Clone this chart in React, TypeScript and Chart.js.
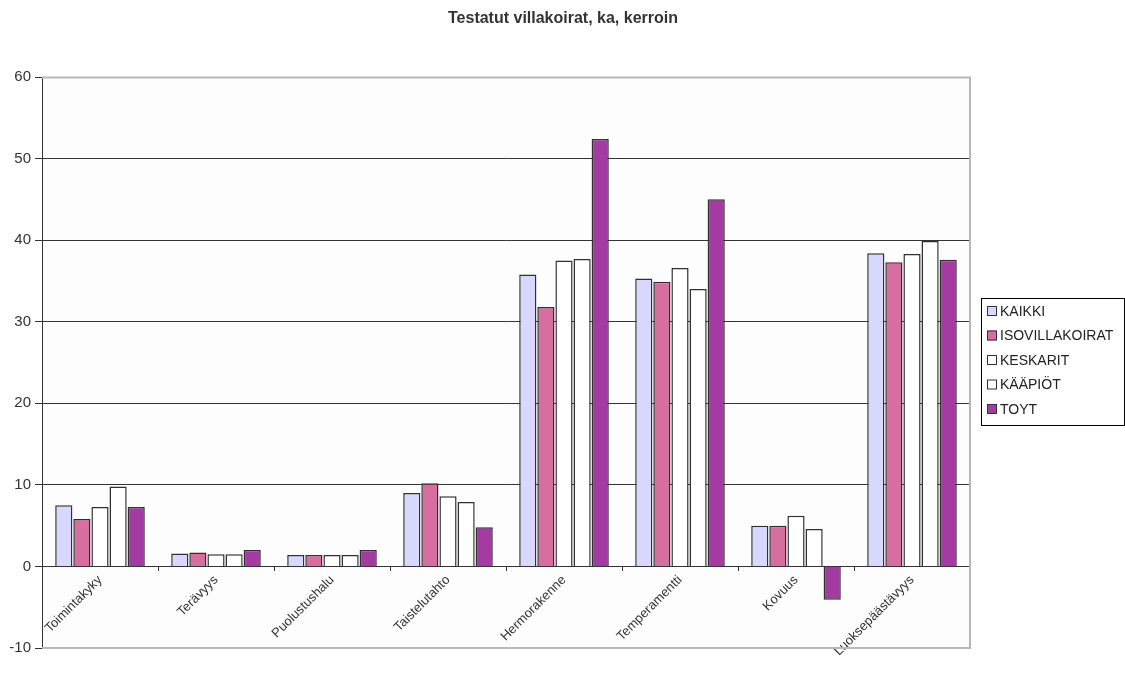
import React, { useEffect, useRef } from "react";
import { Chart, registerables } from "chart.js";
Chart.register(...registerables);

const title = "Testatut villakoirat, ka, kerroin";
const categories = ["Toimintakyky", "Terävyys", "Puolustushalu", "Taistelutahto", "Hermorakenne", "Temperamentti", "Kovuus", "Luoksepäästävyys"];
const seriesNames = ["KAIKKI", "ISOVILLAKOIRAT", "KESKARIT", "KÄÄPIÖT", "TOYT"];
const kaikki = [7.5, 1.6, 1.4, 9.0, 35.8, 35.3, 5.0, 38.4];
const isovillakoirat = [5.8, 1.7, 1.4, 10.2, 31.8, 34.9, 5.0, 37.3];
const keskarit = [7.3, 1.5, 1.4, 8.6, 37.5, 36.6, 6.2, 38.3];
const kaapiot = [9.8, 1.5, 1.4, 7.9, 37.7, 34.0, 4.6, 39.9];
const toyt = [7.3, 2.0, 2.0, 4.8, 52.4, 45.0, -4.1, 37.6];
const seriesColors = ["#d8d8ff", "#d66fa0", "#ffffff", "#ffffff", "#a33ba1"];
const yMin = -10;
const yMax = 60;
const yStep = 10;

const FONT = "'Liberation Sans', Arial, sans-serif";

export default function App() {
  const ref = useRef<HTMLCanvasElement | null>(null);
  useEffect(() => {
    const canvas = ref.current;
    if (!canvas) return;
    const values = [kaikki, isovillakoirat, keskarit, kaapiot, toyt];
    const bgPlugin = {
      id: "bg",
      beforeDraw(chart: any) {
        const { ctx, chartArea: a } = chart;
        ctx.save();
        ctx.fillStyle = "#ffffff";
        ctx.fillRect(0, 0, chart.width, chart.height);
        ctx.fillStyle = "#fdfdfd";
        ctx.fillRect(a.left, a.top, a.right - a.left, a.bottom - a.top);
        ctx.restore();
      },
      afterDraw(chart: any) {
        const { ctx, chartArea: a } = chart;
        ctx.save();
        ctx.strokeStyle = "#b8b8b8";
        ctx.lineWidth = 2;
        ctx.beginPath();
        ctx.moveTo(a.left, a.top + 0.5);
        ctx.lineTo(a.right, a.top + 0.5);
        ctx.lineTo(a.right, a.bottom);
        ctx.lineTo(a.left, a.bottom);
        ctx.stroke();
        ctx.fillStyle = "#333333";
        ctx.font = `bold 16px ${FONT}`;
        ctx.textAlign = "center";
        ctx.textBaseline = "middle";
        ctx.fillText(title, 563, 19);
        const lx = 981, ly = 298, lw = 143, lh = 127;
        ctx.fillStyle = "#ffffff";
        ctx.fillRect(lx, ly, lw, lh);
        ctx.strokeStyle = "#000000";
        ctx.lineWidth = 1;
        ctx.strokeRect(lx + 0.5, ly + 0.5, lw, lh);
        ctx.font = `14px ${FONT}`;
        ctx.textAlign = "left";
        seriesNames.forEach((name, i) => {
          const cy = ly + 13 + i * 24.5;
          ctx.fillStyle = seriesColors[i];
          ctx.fillRect(lx + 6, cy - 5, 10, 10);
          ctx.strokeStyle = "#333333";
          ctx.strokeRect(lx + 6.5, cy - 4.5, 9, 9);
          ctx.fillStyle = "#222222";
          ctx.fillText(name, lx + 19, cy + 1);
        });
        ctx.restore();
      },
    };
    const chart = new Chart(canvas, {
      type: "bar",
      data: {
        labels: categories,
        datasets: seriesNames.map((name, i) => ({
          label: name,
          data: values[i],
          backgroundColor: seriesColors[i],
          borderColor: "#303030",
          borderWidth: 1.5,
          barPercentage: 0.95,
          categoryPercentage: 0.78,
        })),
      },
      options: {
        responsive: false,
        animation: false,
        layout: { padding: { top: 77, right: 155, bottom: 33, left: 0 } },
        plugins: {
          legend: { display: false },
          title: { display: false },
          tooltip: { enabled: false },
        },
        scales: {
          x: {
            position: { y: 0 } as any,
            grid: {
              drawOnChartArea: false,
              drawTicks: true,
              tickLength: 4,
              color: "#333333",
              offset: true,
            },
            border: { display: true, color: "#333333", width: 1 },
            ticks: {
              autoSkip: false,
              maxRotation: 45,
              minRotation: 45,
              color: "#333333",
              font: { family: FONT, size: 13 },
              padding: 2,
            },
          },
          y: {
            min: yMin,
            max: yMax,
            afterFit: (scale: any) => {
              scale.width = 42;
            },
            ticks: {
              stepSize: yStep,
              color: "#333333",
              font: { family: FONT, size: 15 },
              padding: 4,
            },
            grid: {
              color: (c: any) => (c.tick && (c.tick.value === yMax || c.tick.value === yMin) ? "rgba(0,0,0,0)" : "#333333"),
              tickColor: "#333333",
              tickLength: 7,
              lineWidth: 1,
            },
            border: { display: true, color: "#333333", width: 1 },
          },
        },
      },
      plugins: [bgPlugin],
    });
    return () => chart.destroy();
  }, []);
  return (
    <div style={{ position: "absolute", left: 0, top: 0, width: 1125, height: 681, background: "#fff" }}>
      <canvas ref={ref} width={1125} height={681} style={{ width: 1125, height: 681, display: "block" }} />
    </div>
  );
}
